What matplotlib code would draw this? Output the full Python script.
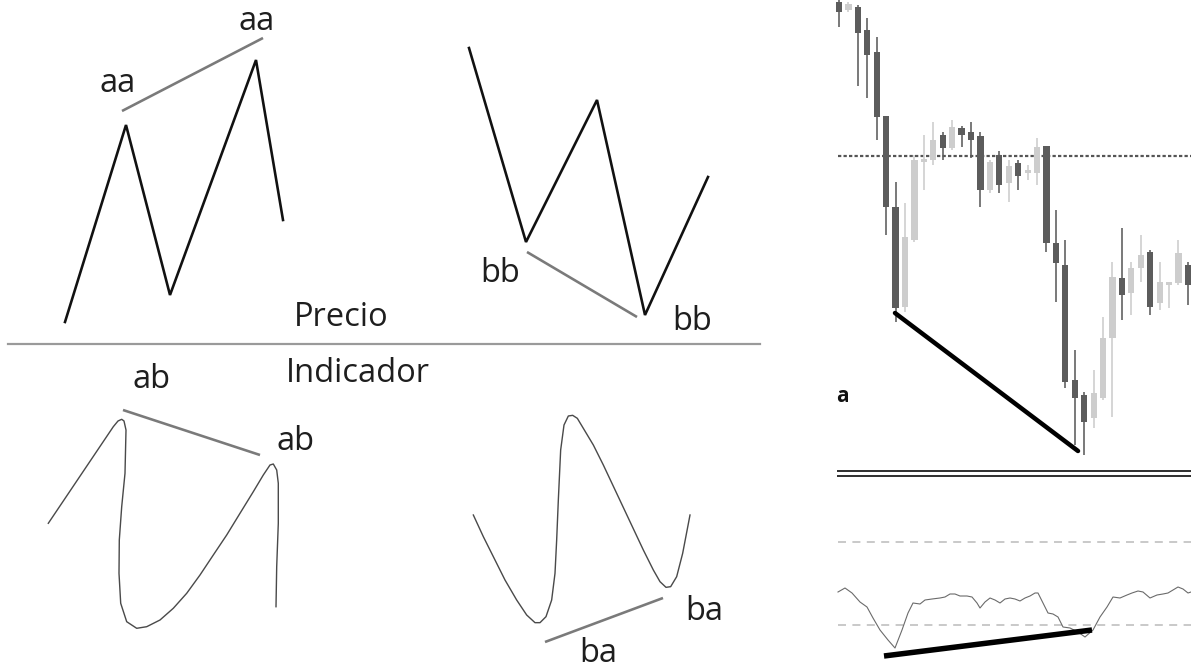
import matplotlib
matplotlib.use("Agg")
import matplotlib.pyplot as plt
import numpy as np

plt.rcParams['font.family'] = ['Open Sans', 'DejaVu Sans']

W, H = 1191, 669

# ---------------- schematic panels (canvas units, y grows downward) ----------------
# Price: higher highs (aa) and lower lows (bb)
price_hh_x = [65, 126, 170, 256, 283]
price_hh_y = [322, 125, 295, 60, 220]
price_ll_x = [469, 526, 597, 645, 708]
price_ll_y = [48, 242, 100, 315, 177]

# Indicator: lower highs (ab) and higher lows (ba)
ind_lh_x = [48.3, 113.3, 118, 121.7, 124, 126, 125, 121.7, 119.3, 119, 120.7, 126.7, 136.7,
            146.7, 160, 173.3, 186.7, 200, 213.3, 226.7, 240, 253.3, 263.3, 270, 273.3,
            276.7, 278.3, 278.3, 276.7, 276]
ind_lh_y = [523.3, 426.7, 421, 419.3, 421, 430, 473.3, 506.7, 540, 573.3, 603.3, 621.7, 628.3,
            626.7, 620, 608.3, 593.3, 575, 555, 535, 513.3, 491.7, 475, 465, 464,
            470, 483.3, 523.3, 566.7, 606.7]
ind_hl_px = [100, 130, 160, 195, 230, 260, 285, 300, 318, 335, 345, 350, 355, 362, 372, 385,
             398, 412, 430, 460, 490, 530, 570, 610, 640, 660, 678, 692, 710, 728, 750]
ind_hl_py = [525, 590, 650, 720, 780, 825, 848, 848, 830, 780, 700, 600, 480, 330, 255, 228,
             226, 235, 265, 315, 375, 460, 545, 630, 690, 725, 742, 740, 710, 640, 525]
ind_hl_x = [440 + v / 3 for v in ind_hl_px]
ind_hl_y = [340 + v / 3 for v in ind_hl_py]

# Trend lines joining the swing points
trend_aa = ([122, 263], [111, 38])
trend_bb = ([527, 637], [252, 317])
trend_ab = ([123, 260], [410, 455])
trend_ba = ([545, 663], [642, 598])

labels = [("aa", 118, 83), ("aa", 257, 21), ("bb", 500, 273), ("bb", 692, 322),
          ("ab", 152, 379), ("ab", 296, 441), ("ba", 704, 612), ("ba", 598, 653),
          ("Precio", 341, 318), ("Indicador", 358, 374)]

# ---------------- candlestick chart ----------------
c_open = [2, 10, 7, 30, 52, 116, 207, 307, 240, 162, 160, 135, 148, 128, 132, 136, 190, 155, 183,
          163, 173, 173, 146, 243, 265, 380, 395, 418, 398, 338, 278, 293, 268, 252, 303, 285,
          283, 265]
c_close = [12, 4, 33, 55, 117, 207, 308, 237, 160, 159, 140, 148, 127, 135, 140, 190, 162, 185, 166,
           176, 170, 147, 243, 263, 382, 398, 422, 393, 338, 277, 295, 268, 255, 307, 282, 282,
           253, 285]
c_high = [0, 2, 5, 18, 37, 116, 182, 203, 155, 135, 122, 132, 120, 126, 122, 132, 160, 151, 160,
          160, 165, 138, 146, 210, 240, 350, 392, 370, 317, 262, 228, 262, 235, 250, 262, 282,
          240, 262]
c_low = [27, 12, 86, 98, 140, 235, 322, 312, 242, 190, 165, 160, 150, 147, 158, 207, 193, 193, 202,
         190, 180, 185, 252, 302, 388, 445, 455, 428, 400, 417, 320, 315, 282, 315, 310, 308,
         285, 305]
level_y = 156
price_div = ([895, 1078], [313, 451])

# Oscillator
osc_x = [838, 845, 852, 860, 867, 873, 880, 888, 895, 902, 908, 913, 920, 925, 932, 940, 945, 950,
         955, 960, 967, 972, 977, 980, 985, 990, 995, 1000, 1005, 1010, 1015, 1020, 1025, 1030,
         1035, 1038, 1043, 1048, 1053, 1058, 1063, 1070, 1078, 1085, 1093, 1100, 1107, 1113,
         1120, 1127, 1132, 1138, 1143, 1150, 1157, 1163, 1168, 1173, 1178, 1183, 1188, 1191]
osc_y = [592, 588, 593, 602, 607, 618, 630, 640, 648, 630, 613, 603, 604, 600, 599, 598, 597, 594,
         594, 596, 596, 597, 603, 608, 602, 598, 600, 603, 599, 598, 599, 601, 598, 596,
         593, 593, 603, 613, 614, 617, 627, 628, 632, 637, 630, 617, 607, 597,
         598, 595, 593, 591, 592, 598, 595, 594, 593, 590, 587, 589, 593, 592]
osc_levels = [542, 625]
osc_div = ([884, 1092], [656, 630])

fig = plt.figure(figsize=(W / 100, H / 100), dpi=100)
ax = fig.add_axes([0, 0, 1, 1])
ax.set_xlim(0, W)
ax.set_ylim(H, 0)
ax.axis('off')

PX = 0.72  # points per pixel at 100 dpi

# schematic
ax.plot(price_hh_x, price_hh_y, color='#111111', lw=2.6 * PX, solid_joinstyle='miter')
ax.plot(price_ll_x, price_ll_y, color='#111111', lw=2.6 * PX, solid_joinstyle='miter')
ax.plot(ind_lh_x, ind_lh_y, color='#4a4a4a', lw=1.4 * PX, solid_joinstyle='round')
ax.plot(ind_hl_x, ind_hl_y, color='#4a4a4a', lw=1.4 * PX, solid_joinstyle='round')
for tx, ty in (trend_aa, trend_bb, trend_ab, trend_ba):
    ax.plot(tx, ty, color='#7a7a7a', lw=2.6 * PX, solid_capstyle='butt')
ax.plot([8, 760], [344, 344], color='#9a9a9a', lw=2.2 * PX)

for txt, x, y in labels:
    ax.text(x, y, txt, ha='center', va='center', fontsize=23.5, color='#1e1e1e')

# candlesticks
step = 9.43
x0 = 839
dark, light = '#5c5c5c', '#cdcdcd'
ax.plot([838, W], [level_y, level_y], color='#555555', lw=2.2 * PX, ls=(0, (1.5, 1)), zorder=1)
for i, (o, c, h, l) in enumerate(zip(c_open, c_close, c_high, c_low)):
    x = x0 + i * step
    col = dark if c > o else light
    ax.plot([x, x], [h, l], color=col, lw=1.6 * PX, zorder=2, solid_capstyle='butt')
    ax.bar(x, abs(c - o) if abs(c - o) > 1 else 1.5, bottom=min(o, c), width=6.2,
           color=col, zorder=3, linewidth=0)
ax.plot(*price_div, color='black', lw=4.5 * PX, solid_capstyle='round', zorder=4)
ax.text(836, 396, "a", ha='left', va='center', fontsize=15, fontweight='bold', color='#111111')

# panel separator
ax.plot([838, W], [471, 471], color='#333333', lw=2 * PX)
ax.plot([838, W], [475.5, 475.5], color='#333333', lw=2 * PX)

# oscillator
for lv in osc_levels:
    ax.plot([838, W], [lv, lv], color='#bdbdbd', lw=1.6 * PX, ls=(0, (5, 4)))
ax.plot(osc_x, osc_y, color='#6a6a6a', lw=1.1 * PX)
ax.plot(*osc_div, color='black', lw=5.5 * PX, solid_capstyle='butt', zorder=4)

fig.savefig('out.png', dpi=100, facecolor='white')
